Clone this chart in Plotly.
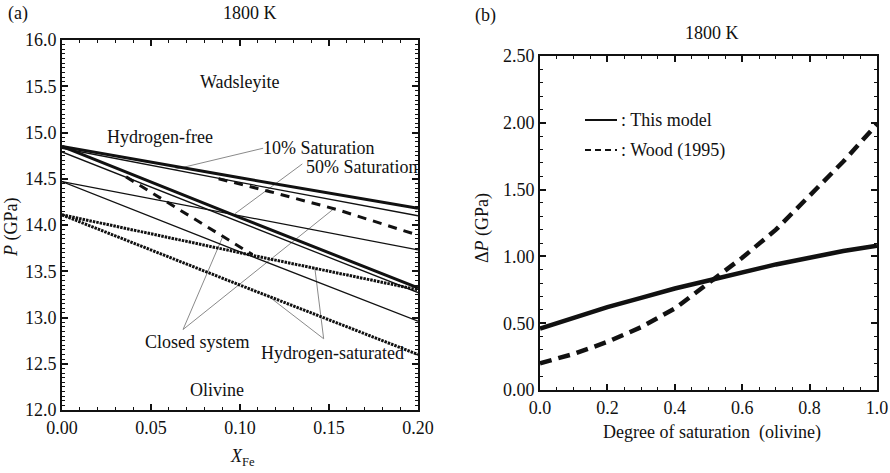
import plotly.graph_objects as go

# ---------------- data: panel (a) phase boundaries, 1800 K ----------------
x_fe = [0.0, 0.1, 0.2]

# wadsleyite-in (upper) and olivine-out (lower) boundaries, pressure in GPa
h_free_upper = [14.85, 14.51, 14.18]
h_free_lower = [14.85, 14.08, 13.32]
sat10_upper = [14.83, 14.46, 14.10]
sat10_lower = [14.79, 14.03, 13.27]
sat50_upper = [14.47, 14.10, 13.73]
sat50_lower = [14.47, 13.71, 12.96]
h_sat_upper = [14.11, 13.70, 13.30]
h_sat_lower = [14.11, 13.35, 12.60]

# closed-system paths
closed_a_x = [0.088, 0.117, 0.154, 0.2]
closed_a_p = [14.50, 14.36, 14.17, 13.89]
closed_b_x = [0.036, 0.070, 0.107]
closed_b_p = [14.52, 14.12, 13.68]

# leader lines: (label anchor x, P) -> (target x, P)
leaders = [
    ((0.113, 14.83), (0.063, 14.60)),   # 10% saturation
    ((0.135, 14.66), (0.097, 14.12)),   # 50% saturation
    ((0.068, 12.87), (0.090, 13.86)),   # closed system
    ((0.068, 12.87), (0.153, 14.18)),   # closed system
    ((0.147, 12.77), (0.142, 13.54)),   # hydrogen-saturated
    ((0.147, 12.77), (0.116, 13.23)),   # hydrogen-saturated
]

# ---------------- data: panel (b) pressure shift ----------------
degree_sat = [0.0, 0.1, 0.2, 0.3, 0.4, 0.5, 0.6, 0.7, 0.8, 0.9, 1.0]
dp_this_model = [0.46, 0.54, 0.62, 0.69, 0.76, 0.82, 0.88, 0.94, 0.99, 1.04, 1.08]
dp_wood_1995 = [0.20, 0.27, 0.36, 0.47, 0.61, 0.80, 0.99, 1.20, 1.45, 1.71, 1.99]

FONT = '"Liberation Serif", "Times New Roman", "DejaVu Serif", serif'
INK = "#111111"
FS = 18

fig = go.Figure()


def boundary(x, y, width, dash="solid"):
    fig.add_trace(go.Scatter(
        x=x, y=y, mode="lines", xaxis="x", yaxis="y",
        line=dict(color=INK, width=width, dash=dash),
        showlegend=False, hoverinfo="skip"))


# leader lines under the curves
for (x0, y0), (x1, y1) in leaders:
    fig.add_trace(go.Scatter(
        x=[x0, x1], y=[y0, y1], mode="lines", xaxis="x", yaxis="y",
        line=dict(color="#8a8a8a", width=1), showlegend=False,
        hoverinfo="skip"))

boundary(x_fe, h_free_upper, 3)
boundary(x_fe, h_free_lower, 3)
boundary(x_fe, sat10_upper, 1.3)
boundary(x_fe, sat10_lower, 1.3)
boundary(x_fe, sat50_upper, 1.3)
boundary(x_fe, sat50_lower, 1.3)
boundary(x_fe, h_sat_upper, 3, "2.5px,1px")
boundary(x_fe, h_sat_lower, 3, "2.5px,1px")
boundary(closed_a_x, closed_a_p, 3, "9px,7px")
boundary(closed_b_x, closed_b_p, 3, "9px,7px")

# panel (b)
fig.add_trace(go.Scatter(
    x=degree_sat, y=dp_this_model, mode="lines", xaxis="x2", yaxis="y2",
    line=dict(color=INK, width=4.5), name=": This model",
    showlegend=False, hoverinfo="skip"))
fig.add_trace(go.Scatter(
    x=degree_sat, y=dp_wood_1995, mode="lines", xaxis="x2", yaxis="y2",
    line=dict(color=INK, width=4.5, dash="12px,7px"), name=": Wood (1995)",
    showlegend=False, hoverinfo="skip"))

W, H = 890, 473
ML, MR, MT, MB = 62, 13, 40, 63
PW, PH = W - ML - MR, H - MT - MB


def px(x):
    return (x - ML) / PW


def py(y):
    return (H - MB - y) / PH


axis_common = dict(
    showline=True, linewidth=2, linecolor=INK, mirror="allticks",
    ticks="inside", ticklen=6, tickwidth=1.5, tickcolor=INK,
    showgrid=False, zeroline=False,
    tickfont=dict(family=FONT, size=FS, color=INK),
)

fig.update_layout(
    width=W, height=H,
    margin=dict(l=ML, r=MR, t=MT, b=MB, autoexpand=False),
    paper_bgcolor="white", plot_bgcolor="white",
    font=dict(family=FONT, size=FS, color=INK),
    xaxis=dict(axis_common, domain=[px(62), px(418)], range=[0, 0.2],
               tickvals=[0, 0.05, 0.1, 0.15, 0.2], tickformat=".2f",
               minor=dict(dtick=0.01, ticks="inside", ticklen=3,
                          tickcolor=INK, tickwidth=1.2),
               anchor="y"),
    yaxis=dict(axis_common, domain=[py(410), py(40)], range=[12, 16],
               dtick=0.5, tickformat=".1f",
               minor=dict(dtick=0.05, ticks="inside", ticklen=3,
                          tickcolor=INK, tickwidth=1.2),
               anchor="x"),
    xaxis2=dict(axis_common, domain=[px(540), px(877)], range=[0, 1.0],
                dtick=0.2, tickformat=".1f",
                minor=dict(dtick=0.05, ticks="inside", ticklen=3,
                           tickcolor=INK, tickwidth=1.2),
                anchor="y2"),
    yaxis2=dict(axis_common, domain=[py(390), py(56)], range=[0, 2.5],
                dtick=0.5, tickformat=".2f",
                minor=dict(dtick=0.1, ticks="inside", ticklen=3,
                           tickcolor=INK, tickwidth=1.2),
                anchor="x2"),
    showlegend=False,
)


def note(text, x, y, xref="x", yref="y", xanchor="center", **kw):
    fig.add_annotation(text=text, x=x, y=y, xref=xref, yref=yref,
                       xanchor=xanchor, yanchor="middle",
                       showarrow=False, font=dict(family=FONT, size=FS, color=INK),
                       **kw)


# panel (a) labels
note("Wadsleyite", 0.1, 15.55)
note("Hydrogen-free", 0.055, 14.95)
note("10% Saturation", 0.112, 14.83, xanchor="left")
note("50% Saturation", 0.136, 14.63, xanchor="left")
note("Closed system", 0.076, 12.74)
note("Hydrogen-saturated", 0.152, 12.62)
note("Olivine", 0.087, 12.22)

# panel headers and axis titles (paper coordinates)
note("(a)", px(18), py(13), "paper", "paper")
note("1800 K", px(250), py(13), "paper", "paper")
note("(b)", px(485), py(15), "paper", "paper")
note("1800 K", px(712), py(33), "paper", "paper")
note("<i>P</i> (GPa)", px(12), py(227), "paper", "paper", textangle=-90)
note("<i>X</i><sub>Fe</sub>", px(242), py(457), "paper", "paper")
note("\u0394<i>P</i> (GPa)", px(483), py(228), "paper", "paper", textangle=-90)
note("Degree of saturation\u00a0\u00a0(olivine)", px(712), py(432), "paper", "paper")

# key for panel (b)
fig.add_shape(type="line", xref="paper", yref="paper",
              x0=px(585), x1=px(617), y0=py(120), y1=py(120),
              line=dict(color=INK, width=2))
fig.add_shape(type="line", xref="paper", yref="paper",
              x0=px(585), x1=px(617), y0=py(150), y1=py(150),
              line=dict(color=INK, width=2, dash="6px,4px"))
note(": This model", px(619), py(120), "paper", "paper", xanchor="left")
note(": Wood (1995)", px(619), py(150), "paper", "paper", xanchor="left")

fig.write_html("out.html")
